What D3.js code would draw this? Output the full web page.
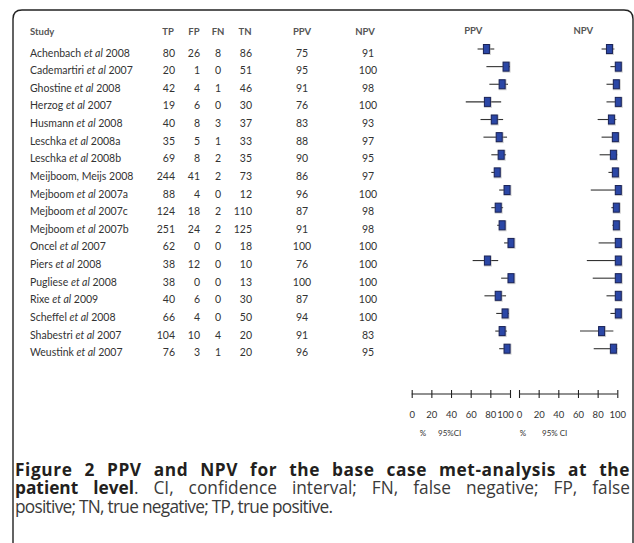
<!DOCTYPE html>
<html>
<head>
<meta charset="utf-8">
<script src="https://cdn.jsdelivr.net/npm/d3@7"></script>
<style>
  html, body { margin: 0; padding: 0; background: #fff; }
  svg { display: block; }
</style>
</head>
<body>
<svg id="fig" width="634" height="543"></svg>
<script>
// Study-level counts and predictive values (%), with 95% confidence limits
const studies = [
  "Achenbach et al 2008", "Cademartiri et al 2007", "Ghostine et al 2008",
  "Herzog et al 2007", "Husmann et al 2008", "Leschka et al 2008a",
  "Leschka et al 2008b", "Meijboom, Meijs 2008", "Mejboom et al 2007a",
  "Mejboom et al 2007c", "Mejboom et al 2007b", "Oncel et al 2007",
  "Piers et al 2008", "Pugliese et al 2008", "Rixe et al 2009",
  "Scheffel et al 2008", "Shabestri et al 2007", "Weustink et al 2007"
];
const tp  = [80, 20, 42, 19, 40, 35, 69, 244, 88, 124, 251, 62, 38, 38, 40, 66, 104, 76];
const fp  = [26, 1, 4, 6, 8, 5, 8, 41, 4, 18, 24, 0, 12, 0, 6, 4, 10, 3];
const fn  = [8, 0, 1, 0, 3, 1, 2, 2, 0, 2, 2, 0, 0, 0, 0, 0, 4, 1];
const tn  = [86, 51, 46, 30, 37, 33, 35, 73, 12, 110, 125, 18, 10, 13, 30, 50, 20, 20];
const ppv = [75, 95, 91, 76, 83, 88, 90, 86, 96, 87, 91, 100, 76, 100, 87, 94, 91, 96];
const npv = [91, 100, 98, 100, 93, 97, 95, 97, 100, 98, 98, 100, 100, 100, 100, 100, 83, 95];
const ppvLo = [67, 76, 79, 55, 70, 73, 81, 81, 89, 81, 87, 94, 62, 91, 74, 86, 85, 89];
const ppvHi = [84, 100, 98, 91, 93, 97, 96, 90, 99, 93, 95, 100, 88, 100, 96, 99, 97, 100];
const npvLo = [84, 93, 89, 89, 80, 84, 82, 91, 73, 94, 95, 81, 69, 75, 89, 93, 62, 76];
const npvHi = [97, 100, 100, 100, 99, 100, 100, 100, 100, 100, 100, 100, 100, 100, 100, 100, 96, 100];
const axisTicks = [0, 20, 40, 60, 80, 100];
const tableHeaders = ["TP", "FP", "FN", "TN", "PPV", "NPV"];

const svg = d3.select("#fig");
const tableFont = "Lato, 'Open Sans', sans-serif";
const capFont = "'Open Sans', sans-serif";

// Frame with rounded top corners
svg.append("path")
  .attr("d", "M13,543 L13,19 Q13,10 22,10 L624,10 Q633,10 633,19 L633,543")
  .attr("fill", "none").attr("stroke", "#222").attr("stroke-width", 1.4);

// Row positions
const y = d3.scaleLinear().domain([0, studies.length - 1]).range([49, 348.7]);
const xPPV = d3.scaleLinear().domain([0, 100]).range([411.7, 510]);
const xNPV = d3.scaleLinear().domain([0, 100]).range([519, 617.3]);

// Table headers
const hdr = svg.append("g").attr("font-family", tableFont).attr("font-size", 9.5)
  .attr("font-weight", "bold").attr("fill", "#555");
hdr.append("text").attr("x", 30).attr("y", 35).text("Study");
const colX = [168, 194, 218, 245, 302, 365];
tableHeaders.forEach((h, i) => {
  hdr.append("text").attr("x", colX[i]).attr("y", 35).attr("text-anchor", "middle").text(h);
});
hdr.append("text").attr("x", 473.3).attr("y", 34).attr("text-anchor", "middle").text("PPV");
hdr.append("text").attr("x", 583.3).attr("y", 34).attr("text-anchor", "middle").text("NPV");

// Table body
const body = svg.append("g").attr("font-family", tableFont).attr("font-size", 10.5).attr("fill", "#333");
studies.forEach((s, i) => {
  const by = y(i) + 7.5;
  const t = body.append("text").attr("x", 30).attr("y", by);
  const parts = s.split("et al");
  if (parts.length === 2) {
    t.append("tspan").text(parts[0]);
    t.append("tspan").attr("font-style", "italic").text("et al");
    t.append("tspan").text(parts[1]);
  } else {
    t.text(s);
  }
  body.append("text").attr("x", 175).attr("y", by).attr("text-anchor", "end").text(tp[i]);
  body.append("text").attr("x", 200).attr("y", by).attr("text-anchor", "end").text(fp[i]);
  body.append("text").attr("x", 218).attr("y", by).attr("text-anchor", "middle").text(fn[i]);
  body.append("text").attr("x", 252).attr("y", by).attr("text-anchor", "end").text(tn[i]);
  body.append("text").attr("x", 302).attr("y", by).attr("text-anchor", "middle").text(ppv[i]);
  body.append("text").attr("x", 368).attr("y", by).attr("text-anchor", "middle").text(npv[i]);
});

// Forest plots
function forest(x, est, lo, hi) {
  const g = svg.append("g");
  g.selectAll("line.ci").data(est).join("line")
    .attr("x1", (d, i) => x(lo[i])).attr("x2", (d, i) => x(hi[i]))
    .attr("y1", (d, i) => y(i)).attr("y2", (d, i) => y(i))
    .attr("stroke", "#333").attr("stroke-width", 1.1);
  g.selectAll("rect.sh").data(est).join("rect")
    .attr("x", d => x(d) - 2.5).attr("y", (d, i) => y(i) - 5)
    .attr("width", 8).attr("height", 11)
    .attr("fill", "#9a9a9a").attr("opacity", 0.45);
  g.selectAll("rect.box").data(est).join("rect")
    .attr("x", d => x(d) - 2).attr("y", (d, i) => y(i) - 4.5)
    .attr("width", 6).attr("height", 9)
    .attr("fill", "#2b47a6").attr("stroke", "#1a2358").attr("stroke-width", 1);
}
forest(xPPV, ppv, ppvLo, ppvHi);
forest(xNPV, npv, npvLo, npvHi);

// Axes
function axis(x, lastShift) {
  const g = svg.append("g").attr("transform", "translate(0,390)");
  g.call(d3.axisBottom(x).tickValues(axisTicks).tickSizeInner(8).tickSizeOuter(0).tickPadding(13));
  g.select(".domain").remove();
  g.selectAll(".tick line").attr("stroke", "#222").attr("stroke-width", 1.1);
  g.selectAll(".tick text").attr("font-family", tableFont).attr("font-size", 9.5).attr("fill", "#333")
    .attr("dx", d => d === 100 ? lastShift : 0);
  g.append("line").attr("x1", x(0)).attr("x2", x(100)).attr("y1", 4).attr("y2", 4)
    .attr("stroke", "#222").attr("stroke-width", 1.1);
}
axis(xPPV, -5);
axis(xNPV, 0);

const axLab = svg.append("g").attr("font-family", tableFont).attr("font-size", 8).attr("fill", "#333");
axLab.append("text").attr("x", 423).attr("y", 436).attr("text-anchor", "middle").text("%");
axLab.append("text").attr("x", 438).attr("y", 436).text("95%CI");
axLab.append("text").attr("x", 523).attr("y", 436).attr("text-anchor", "middle").text("%");
axLab.append("text").attr("x", 542).attr("y", 436).text("95% CI");

// Caption: the first two lines are justified over the frame width
const cap = svg.append("g").attr("font-family", capFont).attr("font-size", 17.3).attr("fill", "#231f20");
const capLeft = 15, capWidth = 615;
function justify(t, share) {
  const node = t.node();
  const w = node.getComputedTextLength();
  const txt = node.textContent;
  const gaps = (txt.match(/ /g) || []).length;
  const ls = Math.max(0, (capWidth - w) * share / (txt.length - 1));
  t.attr("letter-spacing", ls);
  const w2 = node.getComputedTextLength();
  if (gaps > 0) t.attr("word-spacing", (capWidth - w2) / gaps);
}
const l1 = cap.append("text").attr("x", capLeft).attr("y", 476).attr("font-weight", "bold")
  .text("Figure 2 PPV and NPV for the base case met-analysis at the");
justify(l1, 0.3);
const l2 = cap.append("text").attr("x", capLeft).attr("y", 494.3);
l2.append("tspan").attr("font-weight", "bold").text("patient level");
l2.append("tspan").attr("fill", "#3a3a3a").text(". CI, confidence interval; FN, false negative; FP, false");
justify(l2, 0);
// Last line is left aligned, set a touch tighter
const l3 = cap.append("text").attr("x", capLeft).attr("y", 512.6).attr("fill", "#3a3a3a")
  .text("positive; TN, true negative; TP, true positive.");
{
  const n = l3.node();
  const w = n.getComputedTextLength();
  const ls = Math.max(-0.8, Math.min(0, (318 - w) / (n.textContent.length - 1)));
  l3.attr("letter-spacing", ls);
}
</script>
</body>
</html>
